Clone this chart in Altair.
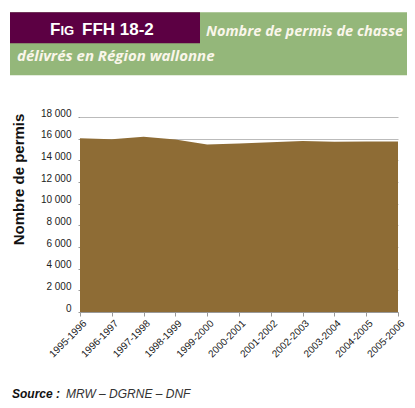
import altair as alt
import pandas as pd

seasons = ["1995-1996", "1996-1997", "1997-1998", "1998-1999", "1999-2000",
           "2000-2001", "2001-2002", "2002-2003", "2003-2004", "2004-2005", "2005-2006"]
permits = [16050, 15950, 16180, 15930, 15470, 15560, 15680, 15780, 15720, 15750, 15750]
y_ticks = [0, 2000, 4000, 6000, 8000, 10000, 12000, 14000, 16000, 18000]

fig_label = "FFH 18-2"
title_line1 = "Nombre de permis de chasse"
title_line2 = "délivrés en Région wallonne"
source_bold = "Source :"
source_rest = "MRW – DGRNE – DNF"

SANS = "Liberation Sans, Arial, sans-serif"
ITAL = "Open Sans, DejaVu Sans, sans-serif"

df = pd.DataFrame({"saison": seasons, "permis": permits})
one = pd.DataFrame({"k": [0]})

area = alt.Chart(df).mark_area(color="#8E6C35", opacity=1).encode(
    x=alt.X("saison:O", sort=seasons,
            scale=alt.Scale(type="point", padding=0),
            axis=alt.Axis(title=None, labelAngle=315, labelFont=SANS, labelFontSize=10,
                          labelColor="#222222", domainColor="#999999", tickColor="#999999",
                          tickSize=4, labelPadding=2, labelOffset=1, grid=False)),
    y=alt.Y("permis:Q", scale=alt.Scale(domain=[0, 18000], nice=False),
            axis=alt.Axis(values=y_ticks, title="Nombre de permis",
                          labelExpr="replace(format(datum.value, ','), ',', ' ')",
                          labelFont=SANS, labelFontSize=10, labelColor="#222222",
                          labelPadding=7, labelOffset=-4, tickSize=2, tickColor="#999999",
                          domain=False, grid=True, gridColor="#BBBBBB", gridWidth=1,
                          titleFont=SANS, titleFontSize=15, titleFontWeight="bold",
                          titleColor="#111111", titleAngle=270, titleAlign="center",
                          titleBaseline="middle", titleX=-62, titleY=62)),
)

green = alt.Chart(one).mark_rect(color="#94B77A").encode(
    x=alt.value(-70), x2=alt.value(340), y=alt.value(-104.7), y2=alt.value(-41.7))
purple = alt.Chart(one).mark_rect(color="#5C0043").encode(
    x=alt.value(-70), x2=alt.value(120), y=alt.value(-104.7), y2=alt.value(-73.7))

t_f = alt.Chart(one).mark_text(text="F", align="left", baseline="alphabetic", font=SANS,
                               fontSize=17, fontWeight="bold", color="white").encode(
    x=alt.value(-30), y=alt.value(-82))
t_ig = alt.Chart(one).mark_text(text="IG", align="left", baseline="alphabetic", font=SANS,
                                fontSize=13, fontWeight="bold", color="white").encode(
    x=alt.value(-19.5), y=alt.value(-82))
t_num = alt.Chart(one).mark_text(text=fig_label, align="left", baseline="alphabetic", font=SANS,
                                 fontSize=17, fontWeight="bold", color="white").encode(
    x=alt.value(2), y=alt.value(-82))
t_l1 = alt.Chart(one).mark_text(text=title_line1, align="left", baseline="alphabetic", font=ITAL,
                                fontSize=14.5, fontWeight="bold", fontStyle="italic",
                                color="#FAF6EA").encode(x=alt.value(126), y=alt.value(-81))
t_l2 = alt.Chart(one).mark_text(text=title_line2, align="left", baseline="alphabetic", font=ITAL,
                                fontSize=15, fontWeight="bold", fontStyle="italic",
                                color="#FAF6EA").encode(x=alt.value(-63), y=alt.value(-56))

s_b = alt.Chart(one).mark_text(text=source_bold, align="left", baseline="alphabetic", font=SANS,
                               fontSize=12, fontWeight="bold", fontStyle="italic",
                               color="#111111").encode(x=alt.value(-68), y=alt.value(281))
s_r = alt.Chart(one).mark_text(text=source_rest, align="left", baseline="alphabetic", font=SANS,
                               fontSize=12, fontStyle="italic",
                               color="#333333").encode(x=alt.value(-14), y=alt.value(281))

chart = alt.layer(area, green, purple, t_f, t_ig, t_num, t_l1, t_l2, s_b, s_r).properties(
    width=318, height=195,
    padding={"left": 72, "top": 109, "right": 9, "bottom": 96},
    autosize=alt.AutoSizeParams(type="none"),
).configure_view(stroke=None)

chart.save("out.html", embed_options={"renderer": "svg", "actions": False})
